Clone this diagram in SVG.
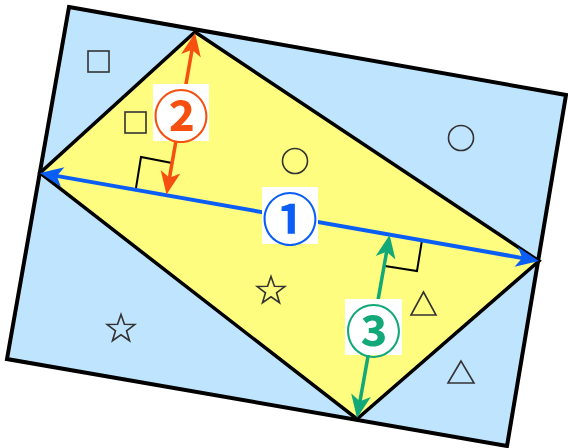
<svg xmlns="http://www.w3.org/2000/svg" width="568" height="448" viewBox="0 0 568 448">
<style>
.outer{fill:#bfe4fd;stroke:#000;stroke-width:4;stroke-linejoin:miter}
.inner{fill:#fefd80;stroke:#000;stroke-width:3.5;stroke-linejoin:miter}
.sym{fill:none;stroke:#333;stroke-width:1.6}
.ra{fill:none;stroke:#000;stroke-width:2}
.lbl{fill:#fff}
.num{font-family:"Noto Sans CJK JP","DejaVu Sans",sans-serif;font-weight:bold;font-size:56px;text-anchor:middle;dominant-baseline:central}
</style>
<defs>
<marker id="mb" markerUnits="userSpaceOnUse" orient="auto-start-reverse" refX="-8" refY="0" overflow="visible"><path d="M0,0 L-23,-10 L-17,0 L-23,10 Z" fill="#0a5ef5"/></marker>
<marker id="mo" markerUnits="userSpaceOnUse" orient="auto-start-reverse" refX="-8" refY="0" overflow="visible"><path d="M0,0 L-23,-10 L-17,0 L-23,10 Z" fill="#f5500f"/></marker>
<marker id="mg" markerUnits="userSpaceOnUse" orient="auto-start-reverse" refX="-8" refY="0" overflow="visible"><path d="M0,0 L-23,-10 L-17,0 L-23,10 Z" fill="#12a878"/></marker>
<path id="star" d="M0,-14.5 L3.41,-4.69 L13.79,-4.48 L5.52,1.79 L8.52,11.73 L0,5.8 L-8.52,11.73 L-5.52,1.79 L-13.79,-4.48 L-3.41,-4.69 Z"/>
</defs>
<g id="outer-rect"><polygon class="outer" points="69,7 566,95 507,446 7,359"/></g>
<g id="inner-rhombus"><polygon class="inner" points="195,32 539,261 357,419 40,173"/></g>
<g id="symbols">
<rect class="sym" x="88" y="51" width="21" height="21"/>
<rect class="sym" x="125" y="112" width="21" height="21"/>
<circle class="sym" cx="461" cy="138" r="12.5"/>
<circle class="sym" cx="295" cy="161" r="12.5"/>
<use href="#star" class="sym" x="121" y="329"/>
<use href="#star" class="sym" x="271" y="291"/>
<polygon class="sym" points="423.5,292 411,315 436,315"/>
<polygon class="sym" points="461,361 448,383 474,383"/>
</g>
<g id="right-angles">
<polyline class="ra" points="136,188 141,157 172,163"/>
<polyline class="ra" points="385,266 417,271 422,240"/>
</g>
<g id="connectors">
<line x1="47.9" y1="174.4" x2="531.1" y2="259.6" stroke="#0a5ef5" stroke-width="4" marker-start="url(#mb)" marker-end="url(#mb)"/>
<line x1="193.6" y1="40.9" x2="167.9" y2="186.6" stroke="#f5500f" stroke-width="3.5" marker-start="url(#mo)" marker-end="url(#mo)"/>
<line x1="388.2" y1="242.9" x2="358.4" y2="410.1" stroke="#12a878" stroke-width="3.5" marker-start="url(#mg)" marker-end="url(#mg)"/>
</g>
<g id="label1"><rect class="lbl" x="262" y="187" width="56" height="57"/><text class="num" x="290" y="215.5" fill="#0a5ef5">①</text></g>
<g id="label2"><rect class="lbl" x="153" y="84" width="56" height="57"/><text class="num" x="181" y="112.5" fill="#f5500f">②</text></g>
<g id="label3"><rect class="lbl" x="345" y="299" width="57" height="56"/><text class="num" x="373.5" y="327" fill="#12a878">③</text></g>
</svg>
